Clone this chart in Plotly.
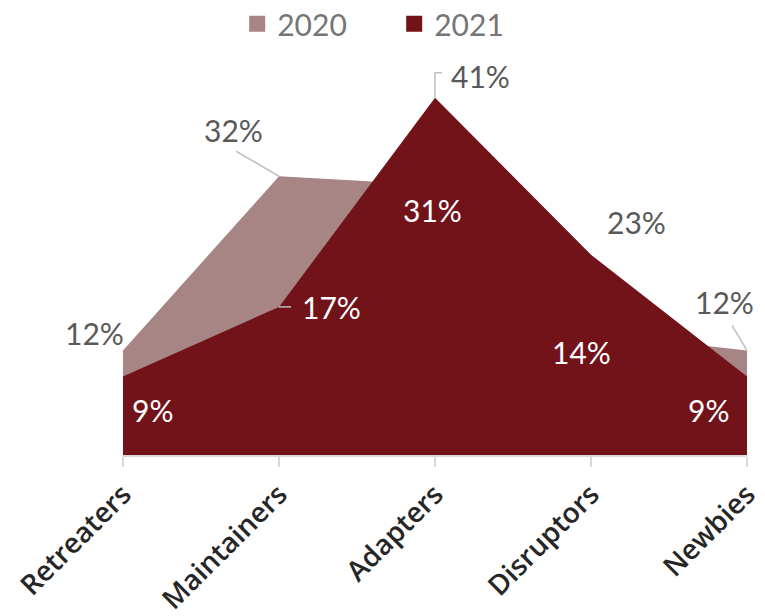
import plotly.graph_objects as go

categories = ["Retreaters", "Maintainers", "Adapters", "Disruptors", "Newbies"]
values_2020 = [0.12, 0.32, 0.31, 0.14, 0.12]
values_2021 = [0.09, 0.17, 0.41, 0.23, 0.09]

color_2020 = "#A68584"
color_2021 = "#721219"
label_gray = "#595959"

# label offsets in pixels (dx, dy) and colours per point
offsets_2020 = [(-29, 17), (-46, 46), (-3, -25), (-10, -19), (-23, 48)]
colors_2020 = [label_gray, label_gray, "white", "white", label_gray]
offsets_2021 = [(29, -33), (52, 0), (45, 22), (45, 33), (-39, -33)]
colors_2021 = ["white", "white", label_gray, label_gray, "white"]

# leader lines: (series, index, pixel end dx, dy)
leaders = [
    (values_2020, 1, -43, 25),
    (values_2020, 4, -15, 25),
    (values_2021, 1, 12, 0),
]

fig = go.Figure()
for name, vals, col in (("2020", values_2020, color_2020),
                        ("2021", values_2021, color_2021)):
    fig.add_trace(go.Scatter(
        x=categories, y=vals, name=name, mode="lines",
        line=dict(width=0, color=col), fill="tozeroy",
        fillcolor=col, hoverinfo="skip", showlegend=False,
    ))
    # square legend swatch
    fig.add_trace(go.Scatter(
        x=[None], y=[None], name=name, mode="markers",
        marker=dict(symbol="square", size=18, color=col),
        showlegend=True,
    ))

annotations = []
for vals, offs, cols in ((values_2020, offsets_2020, colors_2020),
                         (values_2021, offsets_2021, colors_2021)):
    for i, (cat, v) in enumerate(zip(categories, vals)):
        annotations.append(dict(
            x=cat, y=v, xref="x", yref="y", text=f"{round(v * 100)}%",
            showarrow=False, xshift=offs[i][0], yshift=offs[i][1],
            font=dict(family="Lato", size=30, color=cols[i]),
        ))

shapes = []
for vals, i, dx, dy in leaders:
    shapes.append(dict(
        type="line", xref="x", yref="y", xsizemode="pixel", ysizemode="pixel",
        xanchor=categories[i], yanchor=vals[i], x0=0, y0=0, x1=dx, y1=dy,
        line=dict(color="#BFBFBF", width=1.5),
    ))
# bracket leader for the Adapters 2021 peak
shapes.append(dict(
    type="path", xref="x", yref="y", xsizemode="pixel", ysizemode="pixel",
    xanchor=categories[2], yanchor=values_2021[2],
    path="M0,0 L0,25 L7,25", line=dict(color="#BFBFBF", width=1.5),
))

fig.update_layout(
    width=765, height=616,
    margin=dict(l=123, r=18, t=63, b=161, autoexpand=False),
    plot_bgcolor="white", paper_bgcolor="white",
    showlegend=True,
    legend=dict(orientation="h", x=0.183, xanchor="left", y=1.1, yanchor="middle",
                font=dict(family="Lato", size=30, color="#757575"),
                entrywidth=112, entrywidthmode="pixels", tracegroupgap=0),
    annotations=annotations,
    shapes=shapes,
)
fig.update_xaxes(
    type="category", range=[0, 4], showgrid=False, automargin=False,
    showline=True, linecolor="#D9D9D9", linewidth=1.5,
    ticks="outside", ticklen=10, tickcolor="#D9D9D9", tickwidth=1.5,
    tickangle=-45,
    tickfont=dict(family="Open Sans", size=28, color="#262626", weight=600),
)
fig.update_yaxes(range=[0, 0.45], visible=False, showgrid=False, automargin=False)

fig.write_html("out.html")
